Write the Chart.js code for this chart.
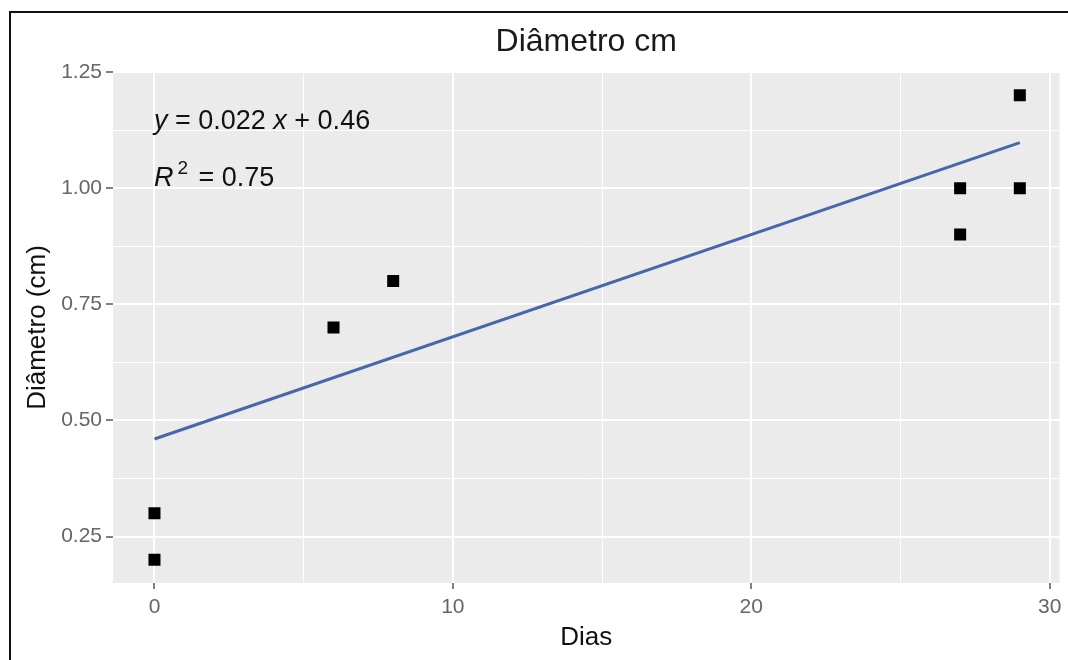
<!DOCTYPE html>
<html>
<head>
<meta charset="utf-8">
<title>Diâmetro cm</title>
<script src="https://cdn.jsdelivr.net/npm/chart.js@4.4.1/dist/chart.umd.min.js"></script>
<style>
  html, body { margin: 0; padding: 0; background: #ffffff; }
  canvas { display: block; }
</style>
</head>
<body>
<canvas id="chart" width="1068" height="660"></canvas>
<script>
// Observations: days after start vs. measured diameter (cm)
const dias = [0, 0, 6, 8, 27, 27, 29, 29];
const diametro = [0.2, 0.3, 0.7, 0.8, 0.9, 1.0, 1.0, 1.2];

// Linear fit as printed on the plot: y = 0.022 x + 0.46, R² = 0.75
const fitSlope = 0.022;
const fitIntercept = 0.46;
const fitR2 = '0.75';
const fitRange = [0, 29];

// Axis ticks
const xMajor = [0, 10, 20, 30];
const xTickLabels = ['0', '10', '20', '30'];
const xMinor = [5, 15, 25];
const yMajor = [0.25, 0.5, 0.75, 1.0, 1.25];
const yTickLabels = ['0.25', '0.50', '0.75', '1.00', '1.25'];
const yMinor = [0.375, 0.625, 0.875, 1.125];

const chartTitle = 'Diâmetro cm';
const xTitle = 'Dias';
const yTitle = 'Diâmetro (cm)';

const FONT = '"Liberation Sans", Arial, Helvetica, sans-serif';

const points = dias.map((d, i) => ({ x: d, y: diametro[i] }));
const fitLine = fitRange.map(x => ({ x: x, y: fitIntercept + fitSlope * x }));

const isMajor = (list, v) => list.some(m => Math.abs(m - v) < 1e-9);

// Draws a run of text pieces one after another, each with its own font, offset and raise
function drawRun(ctx, pieces, x, baseline) {
  let cx = x;
  pieces.forEach(p => {
    ctx.font = p.f;
    cx += p.gap || 0;
    ctx.fillText(p.t, cx, baseline - (p.up || 0));
    cx += ctx.measureText(p.t).width;
  });
}

// Grey panel, page frame, title and the regression equation
const panelPlugin = {
  id: 'panel',
  beforeDraw(chart) {
    const { ctx, chartArea: a, width, height } = chart;
    ctx.save();
    ctx.fillStyle = '#ffffff';
    ctx.fillRect(0, 0, width, height);
    ctx.fillStyle = '#ebebeb';
    ctx.fillRect(a.left, a.top, a.right - a.left, a.bottom - a.top);
    ctx.strokeStyle = '#111111';
    ctx.lineWidth = 2;
    ctx.beginPath();
    ctx.moveTo(10, height);
    ctx.lineTo(10, 12);
    ctx.lineTo(width, 12);
    ctx.stroke();
    ctx.fillStyle = '#1a1a1a';
    ctx.font = '32px ' + FONT;
    ctx.textAlign = 'center';
    ctx.textBaseline = 'alphabetic';
    ctx.fillText(chartTitle, (a.left + a.right) / 2, 51);
    ctx.restore();
  },
  afterDatasetsDraw(chart) {
    const { ctx, chartArea: a } = chart;
    const x0 = a.left + 41;
    const it = 'italic 27px ' + FONT;
    const rg = '27px ' + FONT;
    ctx.save();
    ctx.fillStyle = '#111111';
    ctx.textAlign = 'left';
    ctx.textBaseline = 'alphabetic';
    drawRun(ctx, [
      { t: 'y', f: it },
      { t: ' = ' + fitSlope.toFixed(3) + ' ', f: rg },
      { t: 'x', f: it },
      { t: ' + ' + fitIntercept.toFixed(2), f: rg }
    ], x0, 129);
    drawRun(ctx, [
      { t: 'R', f: it },
      { t: '2', f: '19px ' + FONT, up: 12, gap: 4 },
      { t: ' = ' + fitR2, f: rg, gap: 3 }
    ], x0, 186);
    ctx.restore();
  }
};

function fixBox(size, key) {
  return function (scale) {
    scale[key] = size;
    scale.paddingLeft = 0;
    scale.paddingRight = 0;
    scale.paddingTop = 0;
    scale.paddingBottom = 0;
  };
}

new Chart(document.getElementById('chart'), {
  type: 'scatter',
  data: {
    datasets: [
      {
        label: 'Diâmetro',
        data: points,
        pointStyle: 'rect',
        pointRadius: 8.5,
        pointHoverRadius: 8.5,
        backgroundColor: '#000000',
        borderColor: '#000000',
        borderWidth: 0
      },
      {
        label: 'Ajuste linear',
        data: fitLine,
        showLine: true,
        pointRadius: 0,
        pointHoverRadius: 0,
        borderColor: '#4767aa',
        borderWidth: 3,
        fill: false
      }
    ]
  },
  options: {
    responsive: false,
    animation: false,
    devicePixelRatio: 1,
    layout: { padding: { top: 72, right: 6, bottom: 0, left: 0 } },
    plugins: {
      legend: { display: false },
      tooltip: { enabled: false },
      title: { display: false }
    },
    scales: {
      x: {
        type: 'linear',
        position: 'bottom',
        min: -1.39,
        max: 30.33,
        afterBuildTicks(scale) {
          scale.ticks = xMajor.concat(xMinor).sort((p, q) => p - q).map(v => ({ value: v }));
        },
        afterFit: fixBox(77, 'height'),
        border: { display: false },
        grid: {
          color: '#ffffff',
          lineWidth: c => (isMajor(xMajor, c.tick.value) ? 2 : 1),
          drawTicks: true,
          tickLength: 6,
          tickWidth: 1.5,
          tickColor: c => (isMajor(xMajor, c.tick.value) ? '#555555' : 'rgba(0,0,0,0)')
        },
        ticks: {
          autoSkip: false,
          maxRotation: 0,
          padding: 6,
          color: '#666666',
          font: { family: FONT, size: 21 },
          callback: v => {
            const i = xMajor.findIndex(m => Math.abs(m - v) < 1e-9);
            return i >= 0 ? xTickLabels[i] : '';
          }
        },
        title: {
          display: true,
          text: xTitle,
          color: '#111111',
          font: { family: FONT, size: 26 },
          padding: { top: 0, bottom: 7 }
        }
      },
      y: {
        type: 'linear',
        position: 'left',
        min: 0.15,
        max: 1.25,
        afterBuildTicks(scale) {
          scale.ticks = yMajor.concat(yMinor).sort((p, q) => p - q).map(v => ({ value: v }));
        },
        afterFit: fixBox(113, 'width'),
        border: { display: false },
        grid: {
          color: '#ffffff',
          lineWidth: c => (isMajor(yMajor, c.tick.value) ? 2 : 1),
          drawTicks: true,
          tickLength: 7,
          tickWidth: 1.5,
          tickColor: c => (isMajor(yMajor, c.tick.value) ? '#555555' : 'rgba(0,0,0,0)')
        },
        ticks: {
          autoSkip: false,
          padding: 4,
          color: '#666666',
          font: { family: FONT, size: 21 },
          callback: v => {
            const i = yMajor.findIndex(m => Math.abs(m - v) < 1e-9);
            return i >= 0 ? yTickLabels[i] : '';
          }
        },
        title: {
          display: true,
          text: yTitle,
          color: '#111111',
          font: { family: FONT, size: 26 },
          padding: { top: 22, bottom: 0 }
        }
      }
    }
  },
  plugins: [panelPlugin]
});
</script>
</body>
</html>
